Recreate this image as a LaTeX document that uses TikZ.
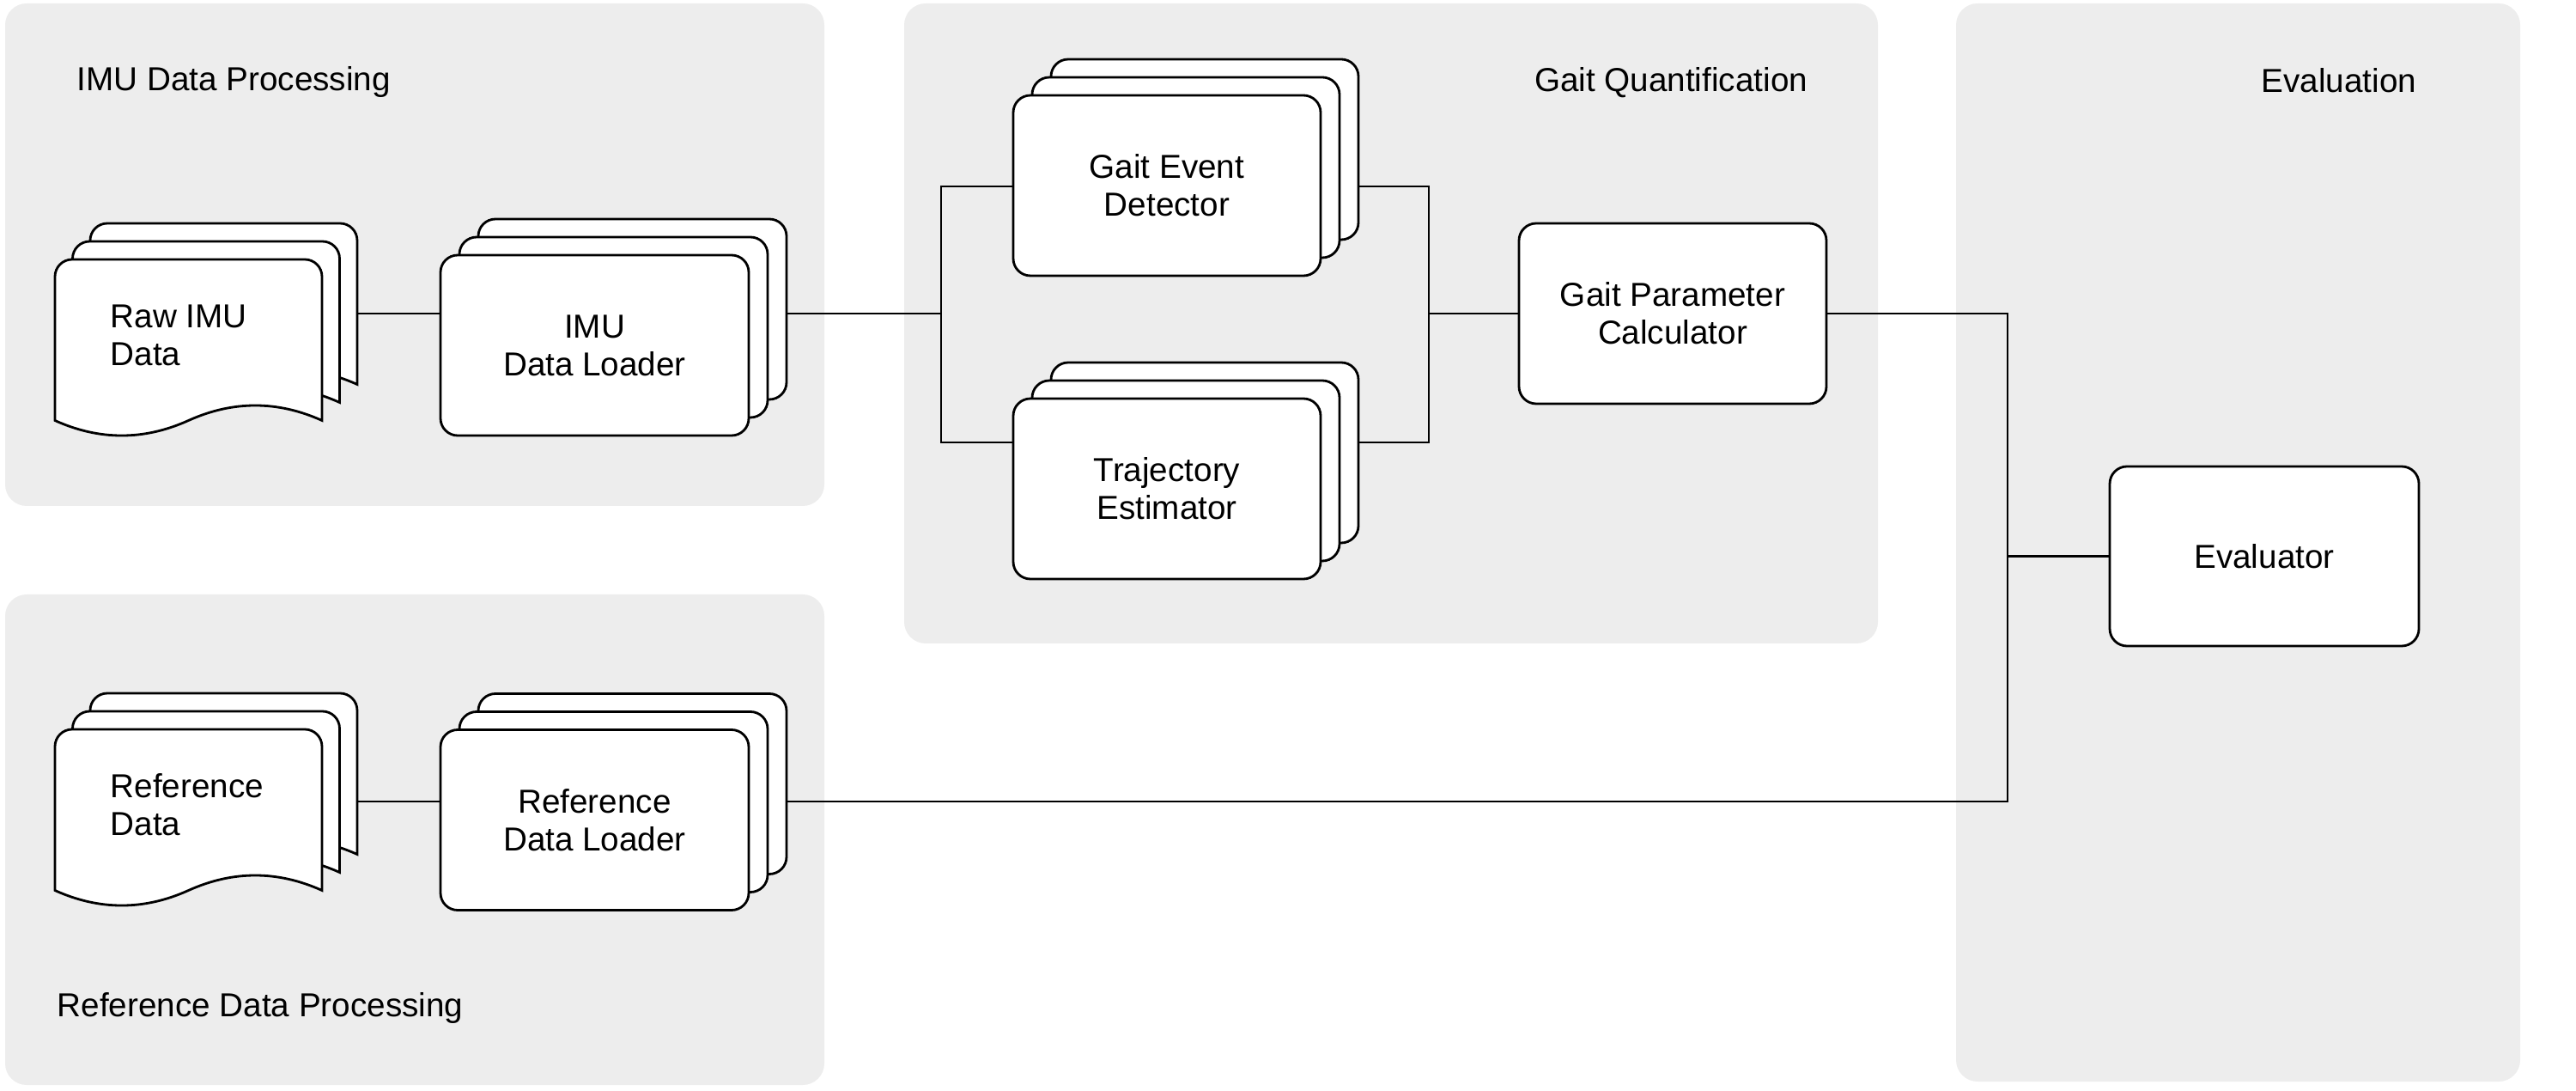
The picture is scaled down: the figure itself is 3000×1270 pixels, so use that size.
\documentclass[tikz,border=0pt]{standalone}
\usepackage{fontspec}
\setmainfont{Liberation Sans}
\begin{document}
\begin{tikzpicture}[x=0.1mm,y=-0.1mm,
  panel/.style={fill=panelgray, draw=none, rounded corners=2.5mm},
  box/.style={draw, fill=white, rounded corners=2mm, line width=0.8pt, inner sep=0pt,
    align=center, font=\fontsize{11pt}{12.5pt}\selectfont},
  docst/.style={draw, fill=white, line width=0.8pt},
  conn/.style={line width=0.8pt},
  ttl/.style={font=\fontsize{11pt}{12.5pt}\selectfont, inner sep=0pt},
  txt/.style={font=\fontsize{11pt}{12.5pt}\selectfont, inner sep=0pt}]
\definecolor{panelgray}{HTML}{EDEDED}
\useasboundingbox (0,0) rectangle (3000,1270);
\newcommand{\mydoc}[2]{%
  \begin{scope}[shift={(#1,#2)}]
  \draw[docst] (0,187.5) -- (0,20) .. controls (0,8.95) and (8.95,0) .. (20,0) -- (291,0)
    .. controls (302.05,0) and (311,8.95) .. (311,20) -- (311,187.5)
    .. controls (259.17,164.17) and (207.33,164.17) .. (155.5,187.5)
    .. controls (103.67,210.87) and (51.83,210.87) .. (0,187.5) -- cycle;
  \end{scope}}
% panels
\fill[panel] (6,4) rectangle (960,589);
\fill[panel] (6,692) rectangle (960,1263);
\fill[panel] (1053,4) rectangle (2187,749);
\fill[panel] (2278,4) rectangle (2935,1259);
\node[ttl, anchor=base west] (t1) at (89,106) {IMU Data Processing};
\node[ttl, anchor=base west] (t2) at (66,1183) {Reference Data Processing};
\node[ttl, anchor=base] (t3) at (1946,107) {Gait Quantification};
\node[ttl, anchor=base] (t4) at (2724,108) {Evaluation};
% documents
\mydoc{105}{260}\mydoc{84.5}{281}\mydoc{64}{302}
\node[txt, anchor=west, align=left] (rawtxt) at (128,390) {Raw IMU\\Data};
\mydoc{105}{807}\mydoc{84.5}{828}\mydoc{64}{849}
\node[txt, anchor=west, align=left] (reftxt) at (128,937) {Reference\\Data};
\coordinate (rawout) at (416,365);
\coordinate (refout) at (416,933);
% loaders
\tikzset{ld/.style={box, minimum width=35.9mm, minimum height=21mm}}
\node[ld] (imuLb) at (736.5,360) {};
\node[ld] (imuLm) at (714.5,381) {};
\node[ld] (imuL) at (692.5,402) {IMU\\Data Loader};
\node[ld] (refLb) at (736.5,912.5) {};
\node[ld] (refLm) at (714.5,933.5) {};
\node[ld] (refL) at (692.5,954.5) {Reference\\Data Loader};
% gait quantification
\tikzset{gq/.style={box, minimum width=35.8mm, minimum height=21mm}}
\node[gq] (gedb) at (1403,174) {};
\node[gq] (gedm) at (1381,195) {};
\node[gq] (ged) at (1359,216) {Gait Event\\Detector};
\node[gq] (teb) at (1403,527) {};
\node[gq] (tem) at (1381,548) {};
\node[gq] (te) at (1359,569) {Trajectory\\Estimator};
\node[gq] (gpc) at (1948,365) {Gait Parameter\\Calculator};
\node[box, minimum width=36mm, minimum height=20.9mm] (eval) at (2637,647.5) {Evaluator};
% connectors
\coordinate (busLt) at (1096,217);
\coordinate (busLm) at (1096,365);
\coordinate (busLb) at (1096,515);
\coordinate (busRt) at (1664,217);
\coordinate (busRm) at (1664,365);
\coordinate (busRb) at (1664,515);
\coordinate (eJ) at (2338,647.5);
\draw[conn] (rawout) -- (rawout -| imuL.west);
\draw[conn] (refout) -- (refout -| refL.west);
\draw[conn] (imuLb.east |- busLm) -- (busLm);
\draw[conn] (busLt -| ged.west) -- (busLt) -- (busLb) -- (busLb -| te.west);
\draw[conn] (busRt -| gedb.east) -- (busRt) -- (busRb) -- (busRb -| teb.east);
\draw[conn] (busRm) -- (gpc.west);
\draw[conn] (gpc.east) -| (eJ);
\draw[conn] (refLb.east |- refout) -| (eJ);
\draw[conn] (eJ) -- (eval.west);
\end{tikzpicture}
\end{document}
